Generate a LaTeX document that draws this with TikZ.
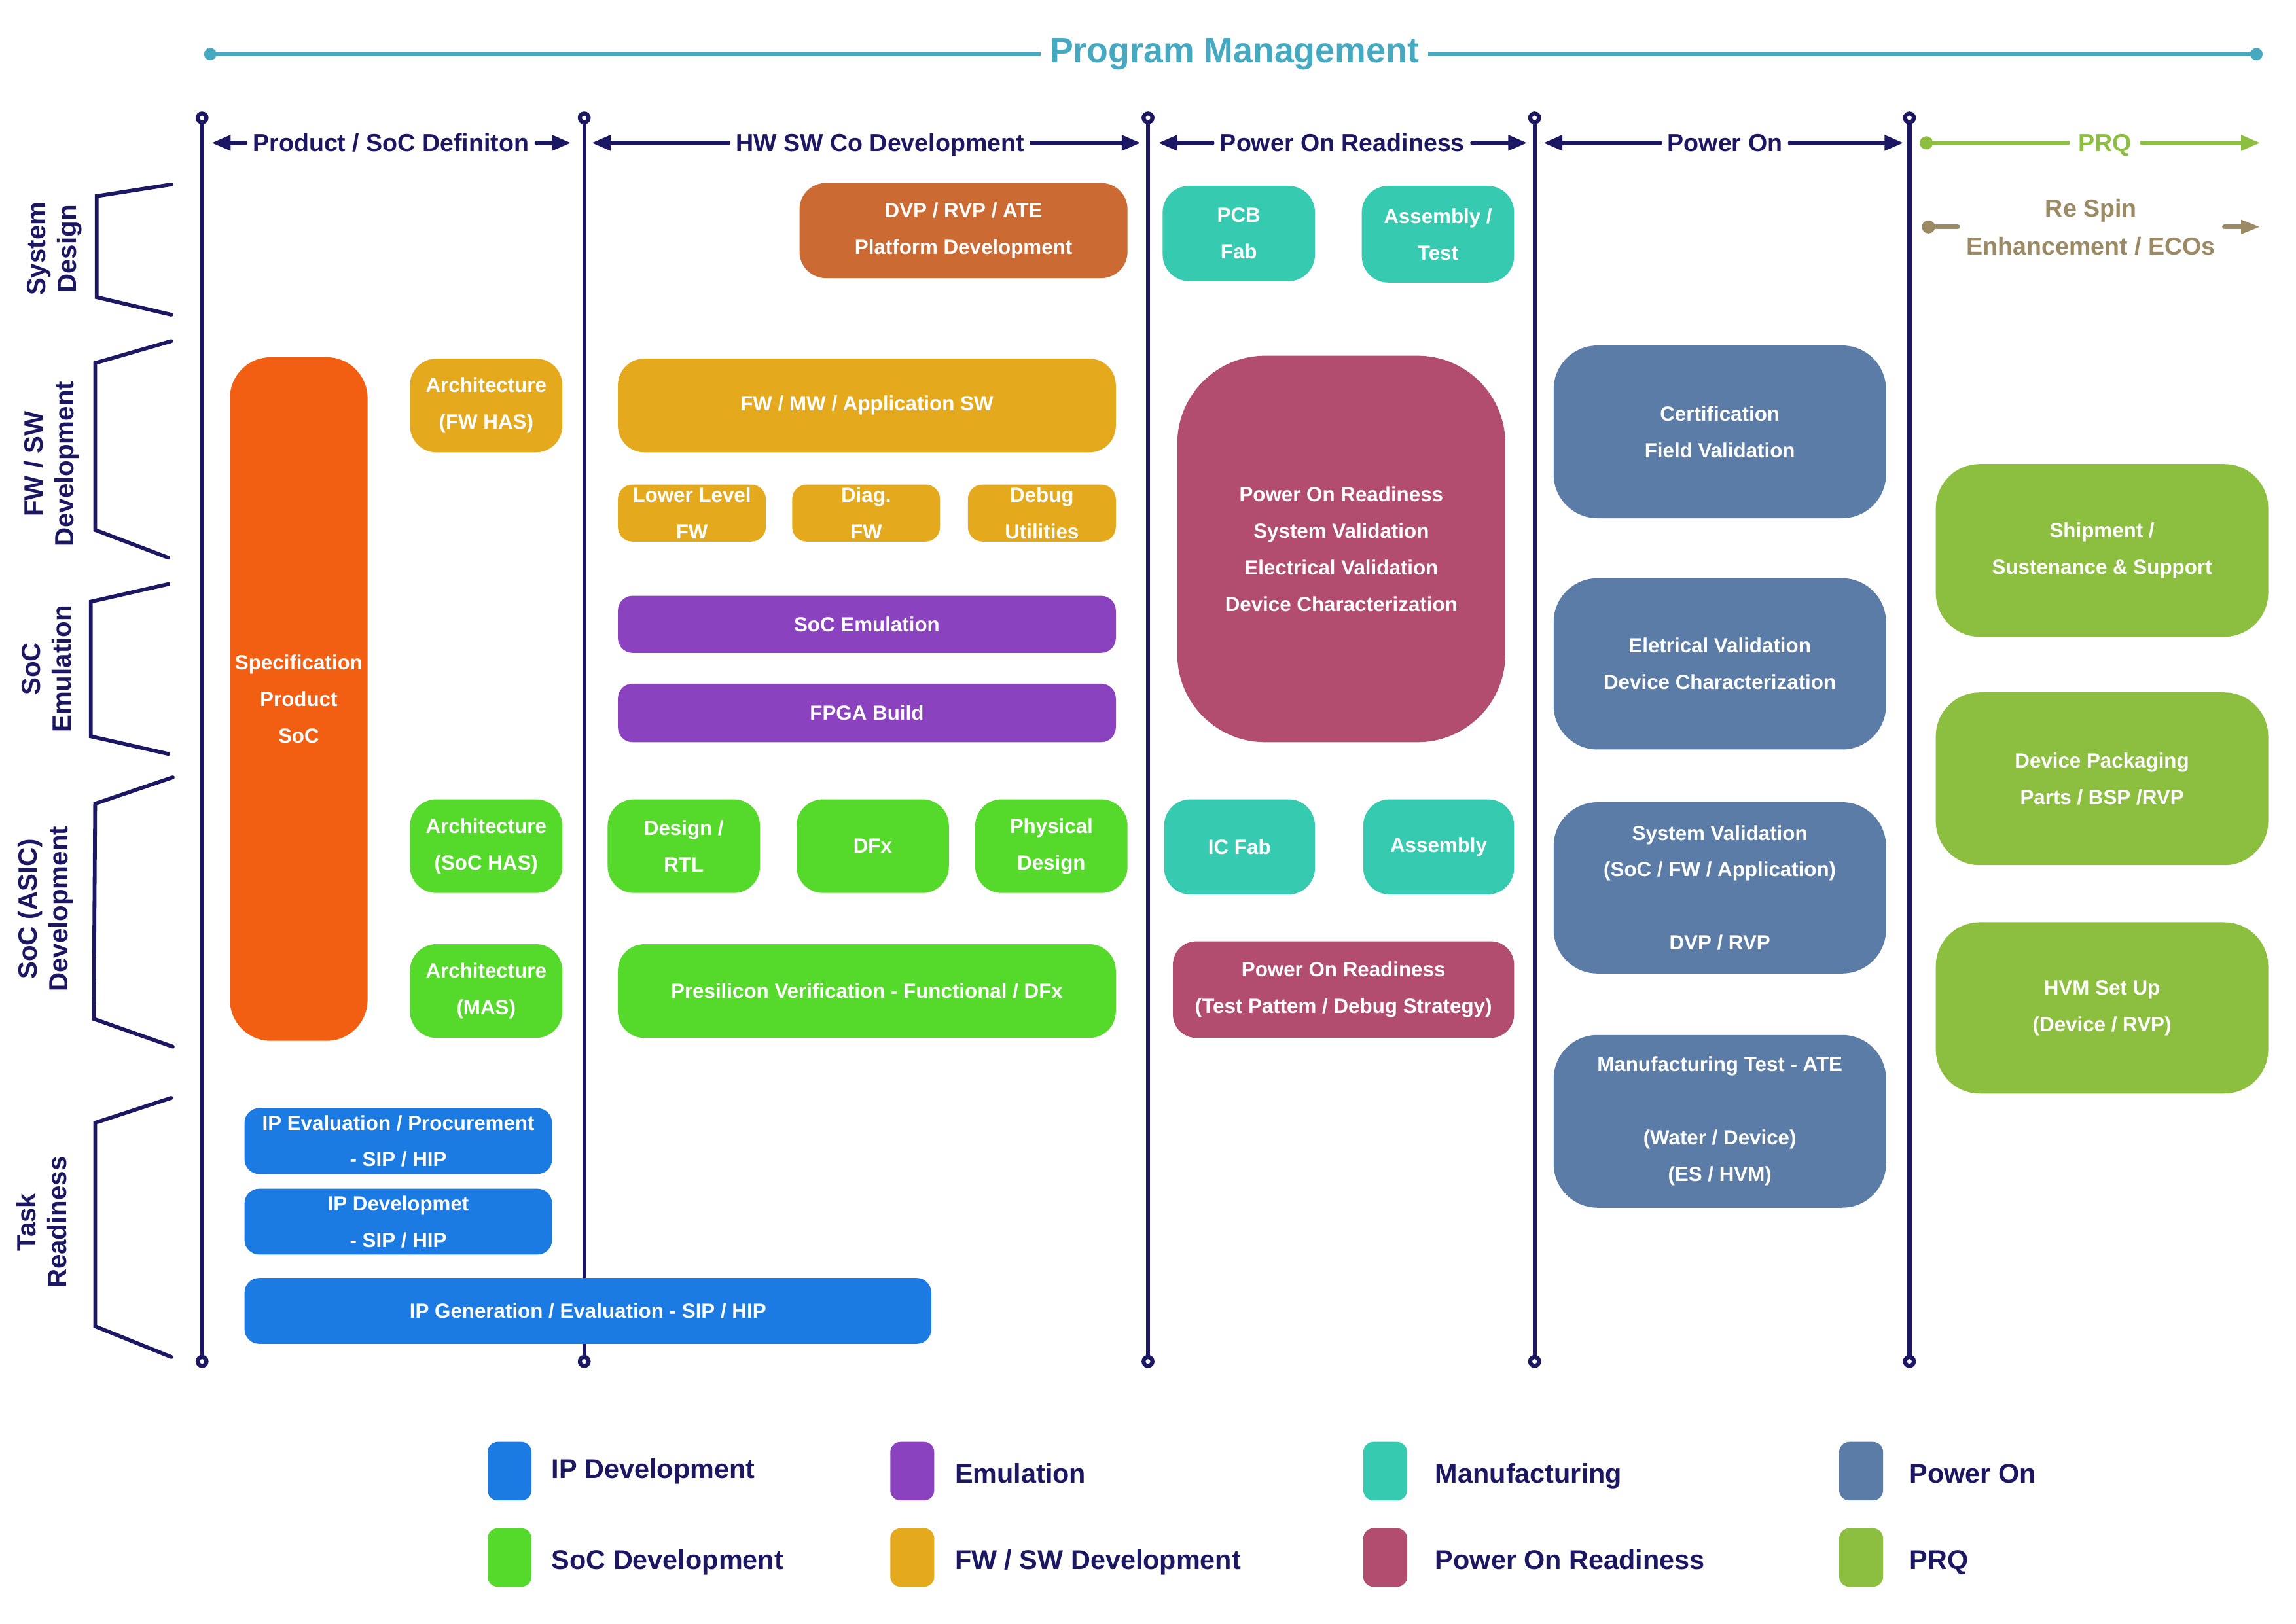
\documentclass[tikz,border=0pt]{standalone}
\usepackage{fontspec}
\setmainfont{Liberation Sans}
\usetikzlibrary{arrows.meta}
\definecolor{navy}{HTML}{1B1763}
\definecolor{titlec}{HTML}{45A9C1}
\definecolor{specc}{HTML}{F25E12}
\definecolor{dvpc}{HTML}{CC6A33}
\definecolor{manu}{HTML}{36CBB1}
\definecolor{gold}{HTML}{E4A91D}
\definecolor{purp}{HTML}{8A42BE}
\definecolor{socg}{HTML}{55D92A}
\definecolor{ipb}{HTML}{1C7BE3}
\definecolor{porc}{HTML}{B24D6F}
\definecolor{ponc}{HTML}{5B7CA7}
\definecolor{prqc}{HTML}{8CBF3F}
\definecolor{khaki}{HTML}{9B8A63}
\begin{document}
\begin{tikzpicture}[x=1pt,y=-1pt,
  box/.style={text=white, align=center, inner sep=0pt, font=\fontsize{14}{25}\selectfont\bfseries},
  vline/.style={navy, line width=2.8pt},
  ring/.style={navy, line width=2.8pt, fill=white},
  brk/.style={navy, line width=2.6pt, line join=miter, line cap=round},
  side/.style={navy, rotate=90, align=center, inner sep=0pt, font=\fontsize{18}{21}\selectfont\bfseries},
  hdr/.style={navy, font=\fontsize{16.8}{20}\selectfont\bfseries, text height=12pt, text depth=0pt, inner ysep=0pt, inner xsep=5pt},
  harrow/.style={navy, line width=3pt, line cap=round, -{Triangle[length=13pt,width=10pt]}},
  parrow/.style={prqc, line width=3pt, line cap=round, -{Triangle[length=13pt,width=10pt]}},
  karrow/.style={khaki, line width=3pt, line cap=round, -{Triangle[length=13pt,width=9pt]}},
  sw/.style={minimum width=30pt, minimum height=40pt, rounded corners=7pt, inner sep=0pt},
  leg/.style={navy, anchor=base west, inner sep=0pt, font=\fontsize{18.5}{22}\selectfont\bfseries}
]
\fill[white] (0,0) rectangle (1568,1109);
\useasboundingbox (0,0) rectangle (1568,1109);

% ---- Title ----
\coordinate (tl) at (143.6,37);
\coordinate (tr) at (1541,37);
\node[text=titlec, inner xsep=6pt, inner ysep=0pt, font=\fontsize{24}{28}\selectfont\bfseries] (title) at (843,36.9) {Program Management};
\draw[titlec, line width=3pt] (tl) -- (tl -| title.west);
\draw[titlec, line width=3pt] (title.east |- tr) -- (tr);
\fill[titlec] (tl) circle[radius=4.2];
\fill[titlec] (tr) circle[radius=4.2];

% ---- Vertical phase lines ----
\foreach \n/\x in {1/138,2/399,3/784,4/1048,5/1304}{
  \coordinate (v\n t) at (\x,80.5);
  \coordinate (v\n b) at (\x,930);
  \draw[vline] (v\n t) -- (v\n b);
  \draw[ring] (v\n t) circle[radius=3];
  \draw[ring] (v\n b) circle[radius=3];
}

% ---- Phase headers ----
\node[hdr] (h1) at (267,97.6) {Product / SoC Definiton};
\coordinate (a1l) at (144.5,97.6); \coordinate (a1r) at (390,97.6);
\draw[harrow] (h1.west) -- (a1l); \draw[harrow] (h1.east) -- (a1r);

\node[hdr] (h2) at (601,97.6) {HW SW Co Development};
\coordinate (a2l) at (404,97.6); \coordinate (a2r) at (779,97.6);
\draw[harrow] (h2.west) -- (a2l); \draw[harrow] (h2.east) -- (a2r);

\node[hdr] (h3) at (916.7,97.6) {Power On Readiness};
\coordinate (a3l) at (791,97.6); \coordinate (a3r) at (1043,97.6);
\draw[harrow] (h3.west) -- (a3l); \draw[harrow] (h3.east) -- (a3r);

\node[hdr] (h4) at (1178,97.6) {Power On};
\coordinate (a4l) at (1054,97.6); \coordinate (a4r) at (1300,97.6);
\draw[harrow] (h4.west) -- (a4l); \draw[harrow] (h4.east) -- (a4r);

\node[hdr, text=prqc, inner xsep=7pt] (prq) at (1437.5,97.6) {PRQ};
\coordinate (pl) at (1315.5,97.6); \coordinate (pr) at (1543.5,97.6);
\draw[prqc, line width=3pt, line cap=round] (pl) -- (prq.west);
\fill[prqc] (pl) circle[radius=4.5];
\draw[parrow] (prq.east) -- (pr);

\node[text=khaki, align=center, inner sep=0pt, font=\fontsize{16.8}{26}\selectfont\bfseries] (respin) at (1428,155.3) {Re Spin\\Enhancement / ECOs};
\coordinate (rl1) at (1317,155); \coordinate (rl2) at (1337,155);
\coordinate (rr1) at (1519,155); \coordinate (rr2) at (1543.5,155);
\draw[khaki, line width=3pt, line cap=round] (rl1) -- (rl2);
\fill[khaki] (rl1) circle[radius=4.5];
\draw[karrow] (rr1) -- (rr2);

% ---- Side brackets and labels ----
\draw[brk] (117,126) -- (66,134) -- (66,203) -- (117,215);
\node[side] (lsys) at (37,170) {System\\Design};
\draw[brk] (117,233) -- (65,248) -- (65,362) -- (115,381);
\node[side] (lfw) at (35,317) {FW / SW\\Development};
\draw[brk] (115,399) -- (62,411) -- (62,503) -- (115,515);
\node[side] (lemu) at (32,457) {SoC\\Emulation};
\draw[brk] (118,531) -- (65,549) -- (64,696) -- (118,715);
\node[side] (lasic) at (31,621) {SoC (ASIC)\\Development};
\draw[brk] (117,750) -- (65,767) -- (65,906) -- (117,927);
\node[side] (ltask) at (28.5,835) {Task\\Readiness};

% ---- Boxes ----
\node[box, fill=dvpc, minimum width=224pt, minimum height=65pt, rounded corners=18pt] (dvp) at (658,157.5) {DVP / RVP / ATE\\Platform Development};
\node[box, fill=manu, minimum width=104pt, minimum height=65pt, rounded corners=18pt] (pcb) at (846,159.5) {PCB\\Fab};
\node[box, fill=manu, minimum width=104pt, minimum height=66pt, rounded corners=18pt] (asmt) at (982,160) {Assembly /\\Test};

\node[box, fill=specc, minimum width=94pt, minimum height=467pt, rounded corners=28pt] (spec) at (204,477.5) {Specification\\Product\\SoC};

\node[box, fill=gold, minimum width=104pt, minimum height=64pt, rounded corners=18pt] (archfw) at (332,277) {Architecture\\(FW HAS)};
\node[box, fill=gold, minimum width=340pt, minimum height=64pt, rounded corners=18pt] (fwmw) at (592,277) {FW / MW / Application SW};
\node[box, fill=gold, minimum width=101pt, minimum height=39pt, rounded corners=10pt] (lowfw) at (472.5,350.5) {Lower Level\\FW};
\node[box, fill=gold, minimum width=101pt, minimum height=39pt, rounded corners=10pt] (diag) at (591.5,350.5) {Diag.\\FW};
\node[box, fill=gold, minimum width=101pt, minimum height=39pt, rounded corners=10pt] (dbg) at (711.5,350.5) {Debug\\Utilities};

\node[box, fill=purp, minimum width=340pt, minimum height=39pt, rounded corners=10pt] (socemu) at (592,426.5) {SoC Emulation};
\node[box, fill=purp, minimum width=340pt, minimum height=40pt, rounded corners=10pt] (fpga) at (592,487) {FPGA Build};

\node[box, fill=socg, minimum width=104pt, minimum height=64pt, rounded corners=18pt] (archsoc) at (332,578) {Architecture\\(SoC HAS)};
\node[box, fill=socg, minimum width=104pt, minimum height=64pt, rounded corners=18pt] (rtl) at (467,578) {Design /\\RTL};
\node[box, fill=socg, minimum width=104pt, minimum height=64pt, rounded corners=18pt] (dfx) at (596,578) {DFx};
\node[box, fill=socg, minimum width=104pt, minimum height=64pt, rounded corners=18pt] (phys) at (718,578) {Physical\\Design};
\node[box, fill=socg, minimum width=104pt, minimum height=64pt, rounded corners=18pt] (archmas) at (332,677) {Architecture\\(MAS)};
\node[box, fill=socg, minimum width=340pt, minimum height=64pt, rounded corners=18pt] (presil) at (592,677) {Presilicon Verification - Functional / DFx};

\node[box, fill=ipb, minimum width=210pt, minimum height=45pt, rounded corners=10pt] (ipeval) at (272,779.5) {IP Evaluation / Procurement\\- SIP / HIP};
\node[box, fill=ipb, minimum width=210pt, minimum height=45pt, rounded corners=10pt] (ipdev) at (272,834.5) {IP Developmet\\- SIP / HIP};
\node[box, fill=ipb, minimum width=469pt, minimum height=45pt, rounded corners=10pt] (ipgen) at (401.5,895.5) {IP Generation / Evaluation - SIP / HIP};

\node[box, fill=porc, minimum width=224pt, minimum height=264pt, rounded corners=60pt] (porbig) at (916,375) {Power On Readiness\\System Validation\\Electrical Validation\\Device Characterization};
\node[box, fill=manu, minimum width=103pt, minimum height=65pt, rounded corners=18pt] (icfab) at (846.5,578.5) {IC Fab};
\node[box, fill=manu, minimum width=103pt, minimum height=65pt, rounded corners=18pt] (asm) at (982.5,578.5) {Assembly};
\node[box, fill=porc, minimum width=233pt, minimum height=66pt, rounded corners=16pt] (portest) at (917.5,676) {Power On Readiness\\(Test Pattem / Debug Strategy)};

\node[box, fill=ponc, minimum width=227pt, minimum height=118pt, rounded corners=30pt] (cert) at (1174.5,295) {Certification\\Field Validation};
\node[box, fill=ponc, minimum width=227pt, minimum height=117pt, rounded corners=30pt] (eleval) at (1174.5,453.5) {Eletrical Validation\\Device Characterization};
\node[box, fill=ponc, minimum width=227pt, minimum height=117pt, rounded corners=30pt] (sysval) at (1174.5,606.5) {System Validation\\(SoC / FW / Application)\\[25pt]DVP / RVP};
\node[box, fill=ponc, minimum width=227pt, minimum height=118pt, rounded corners=30pt] (mfg) at (1174.5,766) {Manufacturing Test - ATE\\[25pt](Water / Device)\\(ES / HVM)};

\node[box, fill=prqc, minimum width=227pt, minimum height=118pt, rounded corners=30pt] (ship) at (1435.5,376) {Shipment /\\Sustenance \& Support};
\node[box, fill=prqc, minimum width=227pt, minimum height=118pt, rounded corners=30pt] (devpkg) at (1435.5,532) {Device Packaging\\Parts / BSP /RVP};
\node[box, fill=prqc, minimum width=227pt, minimum height=117pt, rounded corners=30pt] (hvm) at (1435.5,688.5) {HVM Set Up\\(Device / RVP)};

% ---- Legend ----
\node[sw, fill=ipb] (s1) at (348,1005) {};
\node[leg] (t1) at (376.5,1010) {IP Development};
\node[sw, fill=purp] (s2) at (623,1005) {};
\node[leg] (t2) at (652,1013) {Emulation};
\node[sw, fill=manu] (s3) at (946,1005) {};
\node[leg] (t3) at (980,1013) {Manufacturing};
\node[sw, fill=ponc] (s4) at (1271,1005) {};
\node[leg] (t4) at (1304,1013) {Power On};
\node[sw, fill=socg] (s5) at (348,1064) {};
\node[leg] (t5) at (376.5,1072) {SoC Development};
\node[sw, fill=gold] (s6) at (623,1064) {};
\node[leg] (t6) at (652,1072) {FW / SW Development};
\node[sw, fill=porc] (s7) at (946,1064) {};
\node[leg] (t7) at (980,1072) {Power On Readiness};
\node[sw, fill=prqc] (s8) at (1271,1064) {};
\node[leg] (t8) at (1304,1072) {PRQ};
\end{tikzpicture}
\end{document}
